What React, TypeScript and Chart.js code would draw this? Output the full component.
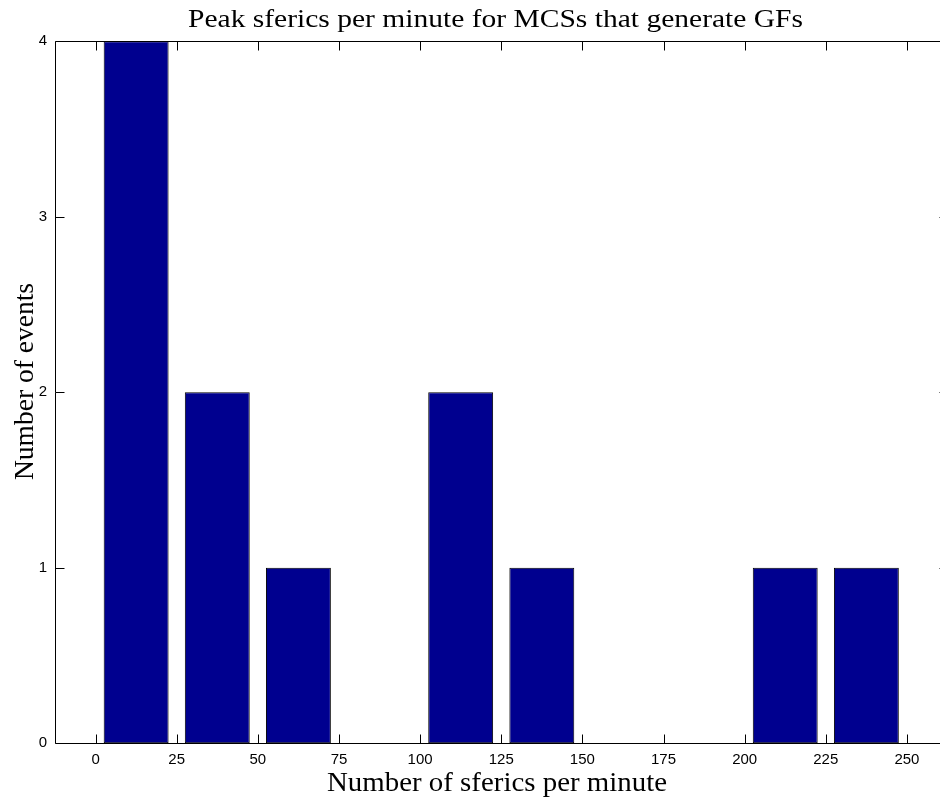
import { useEffect, useRef } from "react";
import { Chart, registerables } from "chart.js";

Chart.register(...registerables);

const binCenters = [12.5, 37.5, 62.5, 87.5, 112.5, 137.5, 162.5, 187.5, 212.5, 237.5];
const counts = [4, 2, 1, 0, 2, 1, 0, 0, 1, 1];
const xTickValues = [0, 25, 50, 75, 100, 125, 150, 175, 200, 225, 250];
const yTickValues = [0, 1, 2, 3, 4];
const titleText = "Peak sferics per minute for MCSs that generate GFs";
const xTitleText = "Number of sferics per minute";
const yTitleText = "Number of events";

const CANVAS_W = 970;
const CANVAS_H = 799;

function drawFitted(ctx: CanvasRenderingContext2D, text: string, cx: number, cy: number, targetW: number, rot: number) {
  const w = ctx.measureText(text).width;
  const sx = targetW / w;
  ctx.save();
  ctx.translate(cx, cy);
  ctx.rotate(rot);
  ctx.scale(sx, 1);
  ctx.fillText(text, 0, 0);
  ctx.restore();
}

const framePlugin = {
  id: "matlabFrame",
  afterDraw(chart: any) {
    const { ctx, chartArea } = chart;
    const xs = chart.scales.x;
    const ys = chart.scales.y;
    const l = Math.round(chartArea.left) + 0.5;
    const r = Math.round(chartArea.right) + 0.5;
    const t = Math.round(chartArea.top) + 0.5;
    const b = Math.round(chartArea.bottom) + 0.5;
    const tl = 9;
    ctx.save();
    ctx.strokeStyle = "#000";
    ctx.lineWidth = 1;
    ctx.beginPath();
    ctx.rect(l, t, r - l, b - t);
    ctx.stroke();
    ctx.beginPath();
    for (const v of xTickValues) {
      const px = Math.round(xs.getPixelForValue(v)) + 0.5;
      ctx.moveTo(px, b);
      ctx.lineTo(px, b - tl);
      ctx.moveTo(px, t);
      ctx.lineTo(px, t + tl);
    }
    for (const v of yTickValues) {
      const py = Math.round(ys.getPixelForValue(v)) + 0.5;
      ctx.moveTo(l, py);
      ctx.lineTo(l + tl, py);
      ctx.moveTo(r, py);
      ctx.lineTo(r - tl, py);
    }
    ctx.stroke();

    ctx.fillStyle = "#000";
    ctx.textBaseline = "alphabetic";
    ctx.textAlign = "center";
    ctx.font = "25px 'Liberation Serif'";
    drawFitted(ctx, titleText, 495.5, 27, 615, 0);
    ctx.font = "27px 'Liberation Serif'";
    drawFitted(ctx, xTitleText, 497, 791, 340, 0);
    drawFitted(ctx, yTitleText, 33, 381.5, 197, -Math.PI / 2);
    ctx.restore();
  },
};

export default function App() {
  const ref = useRef<HTMLCanvasElement | null>(null);

  useEffect(() => {
    if (!ref.current) return;
    const chart = new Chart(ref.current, {
      type: "bar",
      data: {
        datasets: [
          {
            data: binCenters.map((x, i) => ({ x, y: counts[i] })),
            backgroundColor: "#00008f",
            borderColor: "#000",
            borderWidth: 1,
            borderSkipped: false,
            barPercentage: 1,
            categoryPercentage: 0.8,
          },
        ],
      },
      options: {
        animation: false,
        responsive: false,
        devicePixelRatio: 1,
        layout: { padding: { left: 0, top: 41.3, right: CANVAS_W - 947.5, bottom: 0 } },
        plugins: {
          legend: { display: false },
          tooltip: { enabled: false },
          title: { display: false },
        },
        scales: {
          x: {
            type: "linear",
            offset: false,
            min: -12.5,
            max: 262.5,
            grid: { display: false, drawTicks: false, offset: false },
            border: { display: false },
            afterBuildTicks: (s: any) => {
              s.ticks = xTickValues.map((v) => ({ value: v }));
            },
            afterFit: (s: any) => {
              s.height = CANVAS_H - 743.3;
            },
            ticks: {
              autoSkip: false,
              maxRotation: 0,
              padding: 8,
              color: "#000",
              font: { family: "'Liberation Sans', Arial, sans-serif", size: 15 },
            },
          },
          y: {
            type: "linear",
            min: 0,
            max: 4,
            grid: { display: false, drawTicks: false },
            border: { display: false },
            afterBuildTicks: (s: any) => {
              s.ticks = yTickValues.map((v) => ({ value: v }));
            },
            afterFit: (s: any) => {
              s.width = 55;
            },
            ticks: {
              padding: 8,
              color: "#000",
              font: { family: "'Liberation Sans', Arial, sans-serif", size: 15 },
            },
          },
        },
      },
      plugins: [framePlugin],
    });
    return () => chart.destroy();
  }, []);

  return (
    <div
      style={{
        position: "fixed",
        left: 0,
        top: 0,
        width: 940,
        height: CANVAS_H,
        overflow: "hidden",
        background: "#fff",
      }}
    >
      <canvas
        ref={ref}
        width={CANVAS_W}
        height={CANVAS_H}
        style={{ width: CANVAS_W, height: CANVAS_H, display: "block" }}
      />
    </div>
  );
}
